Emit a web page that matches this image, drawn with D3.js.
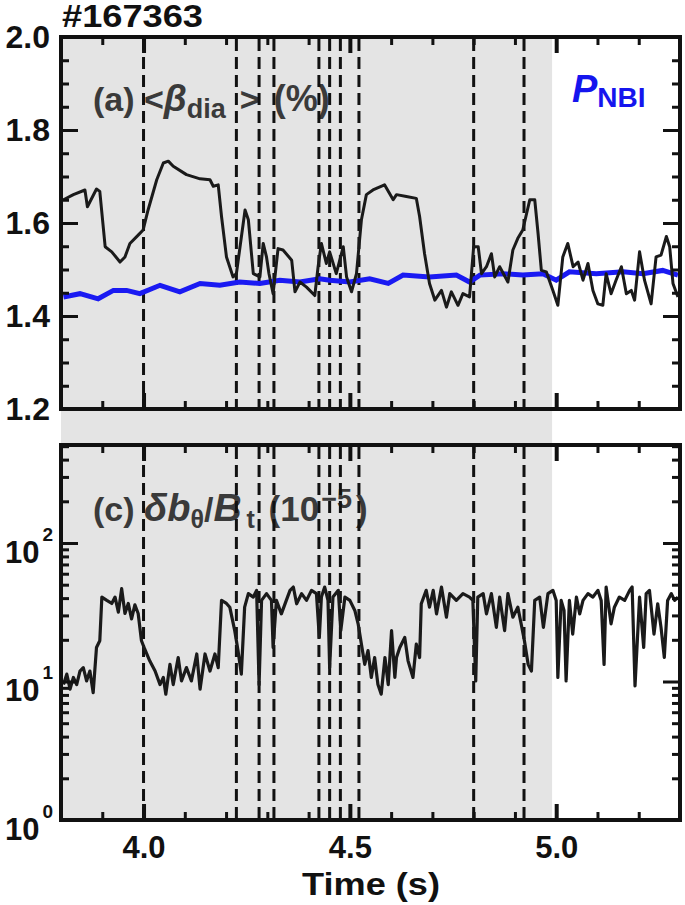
<!DOCTYPE html>
<html><head><meta charset="utf-8">
<script src="https://cdn.jsdelivr.net/npm/d3@7"></script>
<style>
body{margin:0;background:#fff}
svg{display:block}
text{font-family:"Liberation Sans",Arial,sans-serif;font-weight:bold}
</style>
</head><body>
<svg id="chart" width="685" height="905"></svg>
<script>
// ---------------- data ----------------
const shotLabel = "#167363";
const betaTime = [3.806,3.830,3.858,3.864,3.886,3.894,3.907,3.923,3.943,3.955,3.967,3.987,3.999,4.011,4.032,4.048,4.060,4.072,4.104,4.137,4.161,4.169,4.181,4.189,4.201,4.217,4.225,4.246,4.254,4.266,4.282,4.290,4.298,4.304,4.314,4.326,4.338,4.359,4.367,4.379,4.395,4.415,4.423,4.431,4.443,
4.451,4.467,4.484,4.492,4.504,4.516,4.528,4.540,4.556,4.584,4.605,4.613,4.637,4.661,4.669,4.681,4.693,4.706,4.722,4.734,4.746,4.762,4.774,4.790,4.800,4.811,4.819,4.831,4.843,4.851,4.863,4.883,4.895,4.907,4.919,4.936,4.948,4.956,4.964,4.976,4.992,5.004,5.016,5.028,5.041,5.053,5.065,5.077,5.089,5.101,5.113,5.121,5.133,5.145,5.158,5.170,5.182,5.190,5.202,5.214,5.230,5.242,5.254,5.267,5.275,5.283,5.295];
const betaValue = [1.650,1.661,1.671,1.635,1.673,1.668,1.549,1.538,1.516,1.527,1.556,1.574,1.585,1.628,1.693,1.729,1.733,1.722,1.704,1.695,1.693,1.679,1.682,1.614,1.527,1.484,1.491,1.628,1.607,1.491,1.484,1.556,1.527,1.491,1.448,1.545,1.542,1.520,1.452,1.473,1.462,1.444,1.506,1.556,1.513,
1.538,1.491,1.549,1.484,1.452,1.491,1.607,1.661,1.671,1.682,1.650,1.661,1.657,1.653,1.614,1.534,1.470,1.434,1.455,1.419,1.452,1.423,1.448,1.441,1.549,1.549,1.491,1.506,1.534,1.484,1.506,1.473,1.542,1.567,1.585,1.650,1.650,1.578,1.498,1.495,1.455,1.423,1.527,1.556,1.506,1.516,1.477,1.513,1.455,1.426,1.423,1.491,1.448,1.477,1.506,1.448,1.455,1.434,1.538,1.477,1.426,1.527,1.531,1.571,1.549,1.470,1.441];

const pnbiTime = [3.806,3.846,3.890,3.927,3.959,3.991,4.040,4.088,4.137,4.185,4.233,4.282,4.330,4.379,4.427,4.451,4.500,4.548,4.593,4.629,4.693,4.758,4.790,4.815,4.871,4.919,4.968,5.000,5.032,5.097,5.162,5.210,5.258,5.295];
const pnbiValue = [1.441,1.448,1.437,1.455,1.455,1.448,1.466,1.452,1.470,1.466,1.473,1.470,1.477,1.473,1.480,1.477,1.473,1.480,1.470,1.488,1.484,1.488,1.473,1.488,1.491,1.488,1.491,1.477,1.495,1.491,1.495,1.491,1.498,1.488];

const dbTime = [3.806,3.814,3.822,3.830,3.838,3.846,3.854,3.862,3.870,3.878,3.886,3.894,3.899,3.911,3.923,3.931,3.939,3.947,3.955,3.963,3.971,3.979,3.987,3.995,4.003,4.015,4.028,4.040,4.048,4.054,4.064,4.072,4.084,4.092,4.104,4.116,4.129,4.137,4.149,4.161,4.173,4.181,4.189,4.201,
4.209,4.221,4.229,4.237,4.245,4.254,4.266,4.274,4.280,4.286,4.298,4.310,4.314,4.322,4.334,4.346,4.355,4.363,4.371,4.383,4.395,4.407,4.419,4.426,4.431,4.439,4.447,4.451,4.459,4.472,4.478,4.488,4.500,4.512,4.520,4.528,4.536,4.544,4.552,4.560,4.568,4.576,4.585,4.593,4.601,4.609,4.613,
4.621,4.633,4.641,4.653,4.661,4.669,4.673,4.685,4.693,4.702,4.710,4.722,4.734,4.742,4.758,4.774,4.790,4.798,4.805,4.810,4.823,4.831,4.843,4.855,4.863,4.875,4.883,4.895,4.907,4.915,4.923,4.932,4.940,4.948,4.960,4.969,4.980,4.992,5.000,
5.004,5.012,5.019,5.024,5.032,5.040,5.049,5.057,5.065,5.077,5.089,5.101,5.109,5.116,5.121,5.133,5.141,5.153,5.166,5.178,5.184,5.191,5.202,5.212,5.218,5.226,5.237,5.246,5.254,5.262,5.270,5.279,5.287,5.295];
const dbValue = [9.5,11.3,8.8,10.7,9.5,11.9,12.6,10.1,11.9,8.3,17.6,19.7,40.7,38.5,36.6,40.7,31.7,46.8,31,36.6,28.3,35.8,31,19.7,17.1,14.1,11.9,9.5,10.7,8.1,13.3,9.5,14.9,10.1,12.6,10.1,15.8,8.8,15.8,11.9,15.8,12.6,38.5,36.6,
34.4,23.3,16.7,11.3,34.4,43.1,40.7,45.5,9.5,38.5,43.1,38.5,17.6,38.5,30.8,38.5,45.5,48.1,36.4,43.1,38.5,45.5,43.1,20.8,40.7,48.1,38.5,12.6,40.7,45.5,23.3,40.7,38.5,32.6,26.1,18.6,13.3,16.7,10.7,14.9,9.5,8.1,14.9,9.5,23.3,10.7,14.9,
17.6,20.8,14.1,10.7,18.6,14.9,36.4,45.5,34.4,45.5,30.8,48.1,29.1,43.1,38.5,43.1,40.7,38.5,10.1,40.7,43.1,30.8,43.1,24.6,40.7,23.3,43.1,29.1,34.4,26.1,19.7,13.3,11.9,38.5,40.7,24.6,43.1,45.5,38.5,
10.7,38.5,32.6,10.1,38.5,22,40.7,30.8,38.5,43.1,40.7,45.5,38.5,13.3,48.1,26.1,34.4,40.7,38.5,45.5,48.1,9.3,40.7,17.6,43.1,45.5,22,36.4,24.6,14.9,38.5,43.1,38.5,40.7];

const eventTimes = [4.0,4.225,4.28,4.316,4.425,4.451,4.477,4.522,4.80,4.922];
const shadeStart = 3.8, shadeEnd = 4.99;
const timeDomain = [3.8, 5.3];
const betaDomain = [1.2, 2.0];
const betaTickLabels = [1.2, 1.4, 1.6, 1.8, 2.0];
const dbDomain = [1, 510];
const dbTickLabels = [1, 10, 100];
const timeTickLabels = [4.0, 4.5, 5.0];

// ---------------- layout ----------------
const svg = d3.select("#chart");
const L = 61, R = 680;
const topT = 37, topB = 409;
const botT = 445, botB = 820;
const ink = "#111";
const annot = "#3a3a3a";

const x = d3.scaleLinear().domain(timeDomain).range([L, R]);
const yTop = d3.scaleLinear().domain(betaDomain).range([topB, topT]);
const yBot = d3.scaleLog().domain(dbDomain).range([botB, botT]);

// shaded interval
svg.append("rect").attr("x", x(shadeStart)).attr("y", topT)
  .attr("width", x(shadeEnd) - x(shadeStart)).attr("height", botB - topT)
  .attr("fill", "#e4e4e4");

// ---------------- annotations ----------------
function rich(x0, y0, parts, color, anchor) {
  const t = svg.append("text").attr("x", x0).attr("y", y0).attr("fill", color)
    .attr("text-anchor", anchor || "start");
  parts.forEach(p => {
    const s = t.append("tspan").text(p.t).attr("font-size", p.s);
    if (p.dy) s.attr("dy", p.dy);
    if (p.dx) s.attr("dx", p.dx);
    if (p.i) s.attr("font-style", "italic");
  });
  return t;
}
rich(93, 111, [
  {t:"(a) ", s:34}, {t:"<", s:34}, {t:"β", s:37, i:1},
  {t:"dia", s:27, dy:7}, {t:">", s:34, dy:-7, dx:14}, {t:" (%)", s:36, dx:4}
], annot);
rich(93, 521, [
  {t:"(c) ", s:34}, {t:"δb", s:38, i:1}, {t:"θ", s:25, dy:7},
  {t:"/", s:34, dy:-7}, {t:"B", s:39, i:1}, {t:"t", s:25, dy:7, dx:5},
  {t:" (10", s:35, dy:-7, dx:4}, {t:"−5", s:27, dy:-13, dx:2}, {t:")", s:35, dy:13, dx:4}
], annot);
rich(572, 102, [{t:"P", s:38, i:1}, {t:"NBI", s:28, dy:5}], "#1515ee");
svg.append("text").attr("x", L + 1).attr("y", 27).attr("font-size", 31)
  .attr("textLength", 141).attr("lengthAdjust", "spacingAndGlyphs")
  .attr("fill", ink).text(shotLabel);

// ---------------- event lines ----------------
[[topT + 2, topB - 2], [botT + 2, botB - 2]].forEach(([a, b]) => {
  svg.append("g").selectAll("line").data(eventTimes).join("line")
    .attr("x1", d => x(d)).attr("x2", d => x(d)).attr("y1", a).attr("y2", b)
    .attr("stroke", ink).attr("stroke-width", 3).attr("stroke-dasharray", "12,6");
});

// ---------------- data lines ----------------
svg.append("clipPath").attr("id", "clipTop").append("rect")
  .attr("x", L).attr("y", topT).attr("width", R - L).attr("height", topB - topT);
svg.append("clipPath").attr("id", "clipBot").append("rect")
  .attr("x", L).attr("y", botT).attr("width", R - L).attr("height", botB - botT);

const pnbi = pnbiTime.map((t, i) => [t, pnbiValue[i]]);
const beta = betaTime.map((t, i) => [t, betaValue[i]]);
const db = dbTime.map((t, i) => [t, dbValue[i]]);

svg.append("path").attr("clip-path", "url(#clipTop)")
  .attr("d", d3.line().x(d => x(d[0])).y(d => yTop(d[1]))(pnbi))
  .attr("fill", "none").attr("stroke", "#1a1af2").attr("stroke-width", 5);
svg.append("path").attr("clip-path", "url(#clipTop)")
  .attr("d", d3.line().x(d => x(d[0])).y(d => yTop(d[1]))(beta))
  .attr("fill", "none").attr("stroke", "#1a1a1a").attr("stroke-width", 3).attr("stroke-linejoin", "round");
svg.append("path").attr("clip-path", "url(#clipBot)")
  .attr("d", d3.line().x(d => x(d[0])).y(d => yBot(d[1]))(db))
  .attr("fill", "none").attr("stroke", "#1a1a1a").attr("stroke-width", 3.2).attr("stroke-linejoin", "round");

// ---------------- axes ----------------
const majorX = timeTickLabels;
const minorX = d3.range(39, 53).map(v => v / 10).filter(v => !majorX.some(m => Math.abs(m - v) < 1e-6));
const minorBeta = d3.range(24, 41).map(v => v / 20).filter(v => !betaTickLabels.some(m => Math.abs(m - v) < 1e-6));
const minorLog = [];
[1, 10, 100].forEach(dec => { for (let k = 2; k <= 9; k++) { const v = dec * k; if (v < dbDomain[1]) minorLog.push(v); } });

function styleAxis(g) {
  g.select(".domain").remove();
  g.selectAll(".tick line").attr("stroke", ink).attr("stroke-width", 3);
  g.selectAll(".tick text").attr("fill", ink).attr("font-size", 32)
    .attr("font-family", '"Liberation Sans",Arial,sans-serif').attr("font-weight", "bold");
}
function xAxes(yPos, axisFn, withLabels) {
  svg.append("g").attr("transform", `translate(0,${yPos})`)
    .call(axisFn(x).tickValues(minorX).tickSize(-8).tickFormat("")).call(styleAxis);
  const g = svg.append("g").attr("transform", `translate(0,${yPos})`)
    .call(axisFn(x).tickValues(majorX).tickSize(-16).tickPadding(withLabels ? 16 : 0)
      .tickFormat(withLabels ? d3.format(".1f") : "")).call(styleAxis);
  g.selectAll(".tick line").attr("stroke-width", 4);
  if (withLabels) g.selectAll(".tick text").attr("font-size", 31);
}
xAxes(topT, d3.axisTop, false);
xAxes(topB, d3.axisBottom, false);
xAxes(botT, d3.axisTop, false);
xAxes(botB, d3.axisBottom, true);

// top panel y
svg.append("g").attr("transform", `translate(${L},0)`)
  .call(d3.axisLeft(yTop).tickValues(minorBeta).tickSize(-8).tickFormat("")).call(styleAxis);
svg.append("g").attr("transform", `translate(${L},0)`)
  .call(d3.axisLeft(yTop).tickValues(betaTickLabels).tickSize(-17).tickPadding(11).tickFormat(d3.format(".1f"))).call(styleAxis);
svg.append("g").attr("transform", `translate(${R},0)`)
  .call(d3.axisRight(yTop).tickValues(minorBeta).tickSize(-8).tickFormat("")).call(styleAxis);
svg.append("g").attr("transform", `translate(${R},0)`)
  .call(d3.axisRight(yTop).tickValues(betaTickLabels).tickSize(-17).tickFormat("")).call(styleAxis);

// bottom panel y (log)
[[L, d3.axisLeft], [R, d3.axisRight]].forEach(([xp, fn]) => {
  svg.append("g").attr("transform", `translate(${xp},0)`)
    .call(fn(yBot).tickValues(minorLog).tickSize(-8).tickFormat("")).call(styleAxis);
  svg.append("g").attr("transform", `translate(${xp},0)`)
    .call(fn(yBot).tickValues(dbTickLabels).tickSize(-17).tickFormat("")).call(styleAxis);
});
dbTickLabels.forEach(v => {
  const e = Math.round(Math.log10(v));
  const t = svg.append("text").attr("x", 53).attr("y", yBot(v) + 20)
    .attr("text-anchor", "end").attr("fill", ink);
  t.append("tspan").attr("font-size", 31).text("10");
  t.append("tspan").attr("font-size", 19).attr("dx", 3).attr("dy", -22).text(String(e));
});

// frames
[[topT, topB], [botT, botB]].forEach(([a, b]) => {
  svg.append("rect").attr("x", L).attr("y", a).attr("width", R - L).attr("height", b - a)
    .attr("fill", "none").attr("stroke", ink).attr("stroke-width", 4);
});

svg.append("text").attr("x", 371).attr("y", 895).attr("text-anchor", "middle")
  .attr("font-size", 32).attr("textLength", 138).attr("lengthAdjust", "spacingAndGlyphs")
  .attr("fill", ink).text("Time (s)");
</script>
</body></html>
